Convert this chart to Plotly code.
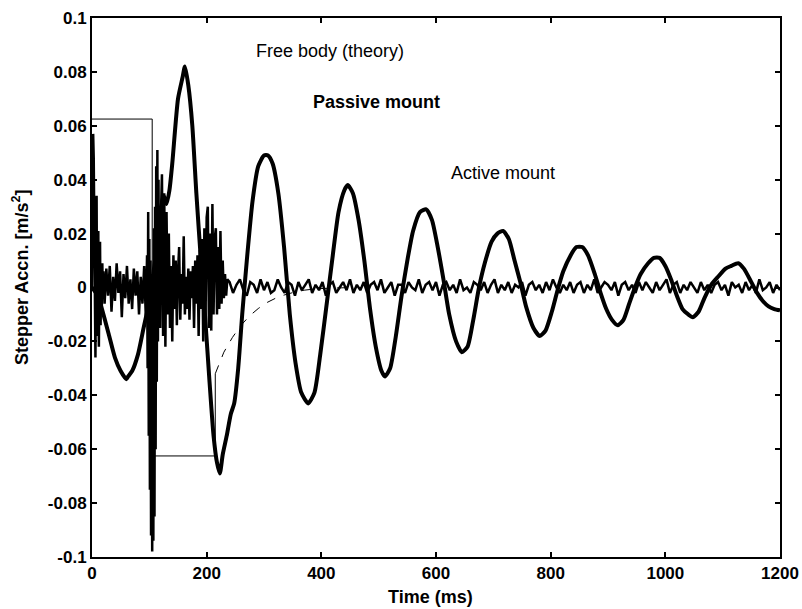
import plotly.graph_objects as go

# ---------------- data ----------------
x_ticks = [0, 200, 400, 600, 800, 1000, 1200]
y_ticks = [0.1, 0.08, 0.06, 0.04, 0.02, 0, -0.02, -0.04, -0.06, -0.08, -0.1]
y_tick_labels = ["0.1", "0.08", "0.06", "0.04", "0.02", "0", "-0.02", "-0.04", "-0.06", "-0.08", "-0.1"]

# Free body (theory): step part and exponential tail
theory_step_t = [0, 105, 105, 215, 215]
theory_step_v = [0.0625, 0.0625, -0.0625, -0.0625, -0.032]
theory_tail_t = [215, 230, 245, 260, 275, 290, 305, 320, 335, 350, 370, 390, 420, 460]
theory_tail_v = [-0.032, -0.024, -0.0185, -0.014, -0.0105, -0.0078, -0.0056, -0.0040,
                 -0.0028, -0.0019, -0.0010, -0.0005, -0.0002, 0.0]

# Passive mount
passive_t = [0, 10, 20, 30, 40, 50, 60, 63, 70, 80, 90, 100, 110, 120, 125, 130, 135, 140, 150,
             158, 162, 168, 175, 182, 190, 197, 205, 212, 218, 223, 228, 235, 242, 248, 255,
             262, 270, 280, 290, 300, 307, 315, 325, 335, 345, 355, 365, 377, 388, 398, 410,
             420, 430, 440, 446, 455, 465, 475, 485, 495, 505, 511, 520, 530, 540, 550, 560,
             572, 583, 593, 603, 613, 623, 635, 645, 655, 665, 675, 685, 697, 707, 717, 727,
             737, 747, 757, 770, 781, 791, 802, 812, 822, 835, 845, 855, 865, 877, 887, 897,
             907, 917, 927, 937, 947, 957, 970, 980, 990, 1000, 1010, 1020, 1030, 1040, 1048,
             1058, 1068, 1080, 1092, 1105, 1115, 1127, 1137, 1150, 1160, 1170, 1180, 1190, 1200]
passive_v = [0.0, -0.003, -0.010, -0.018, -0.026, -0.031, -0.034, -0.033, -0.031, -0.025,
             -0.015, -0.005, 0.010, 0.028, 0.034, 0.031, 0.036, 0.046, 0.070,
             0.078, 0.082, 0.075, 0.060, 0.035, 0.010, -0.010, -0.035, -0.055, -0.065, -0.069,
             -0.062, -0.055, -0.047, -0.043, -0.030,
             -0.010, 0.010, 0.032, 0.045, 0.049, 0.049, 0.046, 0.035, 0.015, -0.010, -0.028,
             -0.039, -0.043, -0.039, -0.025, -0.005,
             0.012, 0.028, 0.036, 0.038, 0.035, 0.025, 0.010, -0.008, -0.022, -0.031, -0.033,
             -0.030, -0.018, -0.003, 0.010, 0.021,
             0.028, 0.029, 0.025, 0.015, 0.003, -0.010, -0.020, -0.024, -0.022, -0.012, 0.000,
             0.009, 0.017, 0.020, 0.021, 0.018,
             0.010, 0.002, -0.007, -0.015, -0.018, -0.016, -0.009, -0.001, 0.006, 0.012, 0.015,
             0.015, 0.012, 0.005, -0.002, -0.008,
             -0.012, -0.014, -0.012, -0.006, 0.000, 0.005, 0.009, 0.011, 0.011, 0.008, 0.003,
             -0.003, -0.008, -0.010, -0.011,
             -0.009, -0.004, 0.001, 0.004, 0.007, 0.008, 0.009, 0.007, 0.002, -0.002, -0.005,
             -0.007, -0.008, -0.0085]

# Active mount
active_t = [0, 1, 2, 3, 4, 5, 6, 7, 8, 9, 10, 11, 12, 13, 14, 15, 16, 17, 18, 19, 20,
            22, 25, 28, 31, 34, 37, 40, 43, 46, 49, 52, 55, 58, 61, 64, 67, 70, 73, 76, 79,
            82, 85, 88, 91, 94,
            96, 97, 98, 99, 100, 101, 102, 103, 104, 105, 106, 107, 108, 109, 110, 111, 112,
            113, 114, 115, 116, 117, 118, 119, 120,
            122, 124, 126, 128, 130, 132, 134, 136, 138, 140, 142, 144, 146, 148, 150, 152,
            154, 156, 158, 160, 162, 164, 166, 168, 170, 172, 174, 176, 178, 180, 182, 184,
            186, 188, 190, 192, 194, 196, 198, 200, 202, 204, 206, 208, 210, 212, 214, 216,
            218, 220, 222, 224, 226, 228, 230, 232, 234, 236,
            240, 246, 252, 258, 264, 270, 276, 282, 288, 294,
            300, 306, 312, 318, 324, 330, 336, 342, 348, 354,
            360, 366, 372, 378, 384, 390, 396, 402, 408, 414,
            420, 426, 432, 438, 444, 450, 456, 462, 468, 474,
            480, 486, 492, 498, 504, 510, 516, 522, 528, 534,
            540, 546, 552, 558, 564, 570, 576, 582, 588, 594,
            600, 606, 612, 618, 624, 630, 636, 642, 648, 654,
            660, 666, 672, 678, 684, 690, 696, 702, 708, 714,
            720, 726, 732, 738, 744, 750, 756, 762, 768, 774,
            780, 786, 792, 798, 804, 810, 816, 822, 828, 834,
            840, 846, 852, 858, 864, 870, 876, 882, 888, 894,
            900, 906, 912, 918, 924, 930, 936, 942, 948, 954,
            960, 966, 972, 978, 984, 990, 996, 1002, 1008, 1014,
            1020, 1026, 1032, 1038, 1044, 1050, 1056, 1062, 1068, 1074,
            1080, 1086, 1092, 1098, 1104, 1110, 1116, 1122, 1128, 1134,
            1140, 1146, 1152, 1158, 1164, 1170, 1176, 1182, 1188, 1194,
            1200]
active_v = [0.000, 0.030, 0.057, 0.048, 0.015, -0.012, -0.026, 0.010, 0.034, -0.018, -0.008,
            0.021, -0.022, 0.008, 0.017, -0.014, 0.005, -0.010, 0.009, -0.004, 0.006,
            -0.006, 0.007, -0.003, 0.008, -0.009, 0.004, -0.005, 0.009, -0.002, 0.006, -0.011,
            0.005, -0.004, 0.008, -0.006, 0.003, -0.008, 0.007, -0.003, 0.006, -0.010, 0.004,
            -0.006, 0.008, -0.012,
            0.012, -0.030, 0.028, -0.055, 0.018, -0.075, 0.010, -0.092, -0.030, -0.098, 0.005,
            -0.094, 0.022, -0.085, 0.030, -0.060, 0.045, -0.035, 0.051, -0.020, 0.040, -0.012,
            0.030, -0.015, 0.025,
            0.042, -0.018, 0.035, -0.022, 0.028, -0.010, 0.020, -0.015, 0.008, -0.020, 0.012,
            -0.008, 0.010, -0.014, 0.006, 0.015, -0.012, 0.005, -0.006, 0.019, -0.010, 0.004,
            -0.008, 0.007, -0.012, 0.006, -0.004, 0.008, -0.015, 0.010, -0.006, 0.012, -0.018,
            0.014, -0.008, 0.018, -0.020, 0.022, -0.012, 0.026, 0.030, -0.015, 0.020, -0.016,
            0.031, -0.010, 0.018, 0.022, -0.010, 0.015, -0.008, 0.021, -0.006, 0.010, -0.004,
            0.005, -0.003, 0.003,
            0.002, -0.002, 0.001, 0.003, -0.001, -0.003, 0.002, 0.001, -0.002, 0.003,
            -0.001, 0.002, -0.002, -0.001, 0.003, 0.000, -0.002, 0.002, 0.001, -0.003,
            0.002, -0.001, 0.001, 0.003, -0.002, 0.001, -0.001, 0.002, -0.003, 0.001,
            0.002, -0.002, 0.000, 0.002, -0.001, 0.003, -0.002, 0.001, -0.001, 0.002,
            -0.002, 0.001, 0.002, -0.001, 0.003, -0.002, 0.000, 0.002, -0.003, 0.001,
            0.001, -0.002, 0.002, 0.000, -0.001, 0.003, -0.002, 0.001, 0.002, -0.001,
            0.002, -0.003, 0.001, 0.002, -0.001, 0.001, -0.002, 0.003, -0.001, 0.000,
            -0.002, 0.002, 0.001, -0.001, 0.002, -0.002, 0.001, 0.003, -0.002, 0.001,
            -0.001, 0.002, -0.002, 0.001, 0.000, 0.002, -0.003, 0.001, 0.002, -0.001,
            0.001, -0.002, 0.002, -0.001, 0.003, 0.000, -0.002, 0.001, -0.001, 0.002,
            -0.002, 0.001, 0.002, -0.002, 0.001, -0.001, 0.003, -0.002, 0.000, 0.002,
            0.001, -0.001, 0.002, -0.003, 0.001, 0.002, -0.001, 0.001, -0.002, 0.002,
            -0.001, 0.002, 0.000, -0.002, 0.002, -0.001, 0.001, 0.003, -0.002, 0.001,
            0.002, -0.002, 0.001, -0.001, 0.002, 0.000, -0.002, 0.002, -0.001, 0.001,
            -0.002, 0.001, 0.002, -0.001, 0.001, -0.003, 0.002, 0.000, 0.001, -0.002,
            0.002, -0.001, 0.001, -0.002, 0.003, -0.001, 0.000, 0.002, -0.002, 0.001,
            -0.001]

labels = ["Free body (theory)", "Passive mount", "Active mount"]
label_x = [415, 497, 717]
label_y = [0.0876, 0.0688, 0.0425]

x_title = "Time (ms)"
y_title = "Stepper Accn. [m/s<sup>2</sup>]"

# ---------------- figure ----------------
FONT = "Liberation Sans, Arial, sans-serif"
fig = go.Figure()

fig.add_trace(go.Scatter(x=theory_step_t, y=theory_step_v, mode="lines",
                         line=dict(color="black", width=1), showlegend=False, hoverinfo="skip"))
fig.add_trace(go.Scatter(x=theory_tail_t, y=theory_tail_v, mode="lines",
                         line=dict(color="black", width=1, dash="dash"), showlegend=False,
                         hoverinfo="skip"))
fig.add_trace(go.Scatter(x=active_t, y=active_v, mode="lines",
                         line=dict(color="black", width=2.5), showlegend=False))
fig.add_trace(go.Scatter(x=passive_t, y=passive_v, mode="lines",
                         line=dict(color="black", width=4, shape="spline", smoothing=0.6),
                         showlegend=False))

for i, (txt, lx, ly) in enumerate(zip(labels, label_x, label_y)):
    fig.add_annotation(x=lx, y=ly, xref="x", yref="y", showarrow=False,
                       text=("<b>%s</b>" % txt) if i == 1 else txt,
                       font=dict(family=FONT, size=18, color="black"))

# axis titles placed as annotations (pixel-precise)
fig.add_annotation(x=0.4927, y=-0.0742, xref="paper", yref="paper", showarrow=False,
                   text="<b>%s</b>" % x_title, xanchor="center", yanchor="middle",
                   font=dict(family=FONT, size=18, color="black"))
fig.add_annotation(x=-0.1032, y=0.5195, xref="paper", yref="paper", showarrow=False,
                   text="<b>%s</b>" % y_title, textangle=-90, xanchor="center", yanchor="middle",
                   font=dict(family=FONT, size=18, color="black"))

axis_common = dict(showline=True, linecolor="black", linewidth=2, mirror="ticks",
                   ticks="inside", ticklen=5, tickwidth=1.5, tickcolor="black",
                   showgrid=False, zeroline=False, automargin=False,
                   tickfont=dict(family=FONT, size=17, color="black", weight="bold"))

fig.update_xaxes(range=[0, 1200], tickvals=x_ticks, **axis_common)
fig.update_yaxes(range=[-0.1, 0.1], tickvals=y_ticks, ticktext=y_tick_labels, **axis_common)

fig.update_layout(width=802, height=609, margin=dict(l=92, r=22, t=18, b=52),
                  plot_bgcolor="white", paper_bgcolor="white", showlegend=False)

fig.write_html("out.html", config={"displayModeBar": False},
               post_script="document.body.style.margin='0';document.body.style.overflow='hidden';")
